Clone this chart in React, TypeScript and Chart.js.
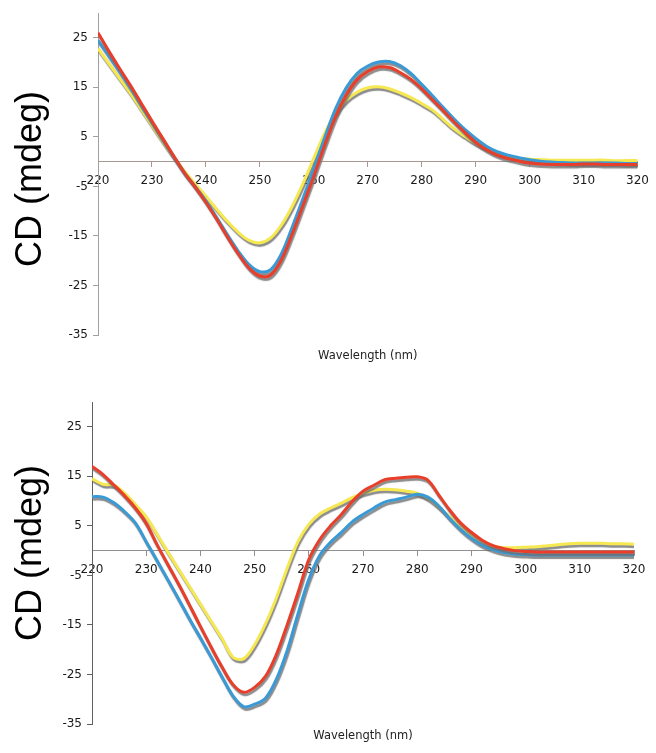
import React, { useEffect, useRef } from 'react';
import { Chart, registerables } from 'chart.js';

Chart.register(...registerables);

const WAVELENGTHS = [
  220, 222, 224, 226, 228, 230, 232, 234, 236, 238,
  240, 242, 244, 246, 248, 250, 252, 254, 256, 258,
  260, 262, 264, 266, 268, 270, 272, 274, 276, 278,
  280, 282, 284, 286, 288, 290, 292, 294, 296, 298,
  300, 302, 304, 306, 308, 310, 312, 314, 316, 318, 320,
];

const TOP_RED = [
  26.0, 22.3, 18.8, 15.4, 11.8, 8.2, 4.7, 1.2, -2.2, -5.1,
  -8.2, -11.6, -15.2, -18.6, -21.5, -23.1, -22.9, -19.8, -14.6, -8.8,
  -2.9, 3.3, 9.0, 13.4, 16.5, 18.2, 19.1, 19.0, 18.0, 16.6,
  14.7, 12.5, 10.3, 8.0, 5.9, 3.9, 2.4, 1.3, 0.6, 0.1,
  -0.3, -0.5, -0.6, -0.6, -0.6, -0.5, -0.5, -0.6, -0.6, -0.6, -0.6,
];
const TOP_BLUE = [
  24.5, 21.4, 18.2, 14.9, 11.4, 7.9, 4.5, 1.1, -2.2, -5.0,
  -7.9, -11.3, -14.8, -18.1, -20.8, -22.2, -21.8, -18.6, -13.2, -7.4,
  -1.4, 4.8, 10.6, 14.9, 17.8, 19.3, 20.1, 20.2, 19.4, 17.8,
  15.6, 13.3, 10.9, 8.6, 6.5, 4.7, 3.1, 2.0, 1.3, 0.8,
  0.4, 0.1, -0.1, -0.2, -0.3, -0.3, -0.3, -0.3, -0.3, -0.4, -0.4,
];
const TOP_YELLOW = [
  22.8, 19.8, 16.8, 13.8, 10.6, 7.3, 4.1, 1.0, -1.9, -4.5,
  -7.0, -9.6, -12.1, -14.3, -15.9, -16.4, -15.4, -12.8, -9.0, -4.4,
  0.7, 5.7, 9.7, 12.4, 14.0, 14.9, 15.1, 14.7, 13.9, 12.9,
  11.7, 10.4, 8.5, 6.6, 5.1, 3.7, 2.6, 1.7, 1.1, 0.7,
  0.5, 0.4, 0.3, 0.3, 0.3, 0.3, 0.3, 0.3, 0.2, 0.2, 0.2,
];

const BOTTOM_RED = [
  17.0, 15.4, 13.3, 11.1, 8.6, 5.5, 1.2, -2.8, -6.8, -11.0,
  -15.3, -19.5, -23.5, -27.0, -28.6, -27.6, -25.4, -21.0, -15.0, -8.5,
  -1.8, 2.2, 5.0, 7.3, 9.9, 12.0, 13.2, 14.3, 14.6, 14.8,
  14.9, 14.2, 11.2, 8.2, 5.6, 3.7, 2.1, 1.0, 0.4, 0.0,
  -0.2, -0.3, -0.3, -0.3, -0.3, -0.3, -0.3, -0.3, -0.3, -0.3, -0.3,
];
const BOTTOM_BLUE = [
  10.9, 10.8, 9.7, 7.9, 5.6, 1.8, -2.0, -5.9, -9.8, -13.8,
  -17.6, -21.5, -25.5, -29.3, -31.5, -31.0, -29.8, -26.0, -20.2, -12.8,
  -5.8, -1.0, 1.7, 3.7, 5.8, 7.3, 8.6, 9.8, 10.3, 10.8,
  11.4, 10.8, 9.0, 6.5, 4.3, 2.5, 1.1, 0.2, -0.4, -0.7,
  -0.8, -0.9, -0.9, -0.9, -0.9, -0.9, -0.9, -0.9, -0.9, -0.9, -0.9,
];
const BOTTOM_YELLOW = [
  14.5, 13.4, 13.2, 11.6, 9.3, 6.8, 3.3, -0.3, -3.8, -7.3,
  -10.8, -14.3, -17.8, -21.5, -21.8, -19.0, -14.8, -9.6, -3.6, 1.8,
  5.3, 7.4, 8.6, 9.6, 10.7, 11.6, 12.2, 12.4, 12.3, 12.0,
  11.6, 10.5, 8.8, 6.8, 4.7, 3.0, 1.7, 0.9, 0.6, 0.6,
  0.7, 0.8, 1.0, 1.2, 1.4, 1.5, 1.5, 1.5, 1.4, 1.4, 1.3,
];

const X_TICKS = [220, 230, 240, 250, 260, 270, 280, 290, 300, 310, 320];
const Y_TICKS = [-35, -25, -15, -5, 5, 15, 25];
const Y_MIN = -35;
const Y_MAX = 30;
const Y_TITLE = 'CD (mdeg)';
const X_TITLE = 'Wavelength (nm)';

const RED = 'rgb(232, 62, 42)';
const BLUE = 'rgb(58, 154, 214)';
const YELLOW = 'rgb(246, 232, 80)';

const shadowPlugin = {
  id: 'lineShadow',
  beforeDatasetDraw(chart: any) {
    const ctx = chart.ctx;
    ctx.save();
    ctx.shadowColor = 'rgba(110,110,110,0.8)';
    ctx.shadowBlur = 1;
    ctx.shadowOffsetX = 1;
    ctx.shadowOffsetY = 2.5;
  },
  afterDatasetDraw(chart: any) {
    chart.ctx.restore();
  },
};

const titlesPlugin = {
  id: 'cdTitles',
  afterDraw(chart: any, _args: any, opts: any) {
    const { ctx, chartArea } = chart;
    ctx.save();
    ctx.fillStyle = '#000';
    ctx.font = '36px "Liberation Sans", Arial, sans-serif';
    ctx.textAlign = 'center';
    ctx.textBaseline = 'middle';
    ctx.translate(opts.yTitleX, (chartArea.top + chartArea.bottom) / 2 + opts.yTitleDy);
    ctx.rotate(-Math.PI / 2);
    ctx.fillText(Y_TITLE, 0, 0);
    ctx.restore();

    ctx.save();
    ctx.fillStyle = '#222';
    ctx.font = '11.5px "DejaVu Sans", Verdana, sans-serif';
    ctx.textAlign = 'center';
    ctx.textBaseline = 'middle';
    ctx.fillText(X_TITLE, (chartArea.left + chartArea.right) / 2, chartArea.bottom + opts.xTitleDy);
    ctx.restore();
  },
};

type Cfg = {
  height: number;
  padding: { left: number; right: number; top: number; bottom: number };
  yTitleX: number;
  yTitleDy: number;
  xTitleDy: number;
  xAxisColor: string;
  yAxisColor: string;
};

function CDChart({ red, blue, yellow, cfg }: { red: number[]; blue: number[]; yellow: number[]; cfg: Cfg }) {
  const ref = useRef<HTMLCanvasElement | null>(null);
  useEffect(() => {
    if (!ref.current) return;
    const pts = (arr: number[]) => WAVELENGTHS.map((w, i) => ({ x: w, y: arr[i] }));
    const tickFont = { family: '"DejaVu Sans", Verdana, sans-serif', size: 12 };
    const chart = new Chart(ref.current, {
      type: 'line',
      data: {
        datasets: [
          { data: pts(red), borderColor: RED },
          { data: pts(blue), borderColor: BLUE },
          { data: pts(yellow), borderColor: YELLOW },
        ],
      },
      options: {
        responsive: false,
        animation: false,
        events: [],
        layout: { padding: cfg.padding },
        elements: {
          point: { radius: 0 },
          line: { borderWidth: 3, tension: 0.35, fill: false },
        },
        plugins: {
          legend: { display: false },
          tooltip: { enabled: false },
          cdTitles: { yTitleX: cfg.yTitleX, yTitleDy: cfg.yTitleDy, xTitleDy: cfg.xTitleDy },
        } as any,
        scales: {
          x: {
            type: 'linear',
            position: { y: 0 } as any,
            min: 220,
            max: 320,
            afterBuildTicks: (s: any) => {
              s.ticks = X_TICKS.map((v) => ({ value: v }));
            },
            grid: { drawOnChartArea: false, drawTicks: true, tickLength: 5, color: cfg.xAxisColor },
            border: { color: cfg.xAxisColor, width: 1 },
            ticks: { autoSkip: false, maxRotation: 0, padding: 7, font: tickFont, color: '#1a1a1a' },
          },
          y: {
            type: 'linear',
            min: Y_MIN,
            max: Y_MAX,
            afterBuildTicks: (s: any) => {
              s.ticks = Y_TICKS.map((v) => ({ value: v }));
            },
            afterFit: (s: any) => {
              s.width = 40;
            },
            grid: { drawOnChartArea: false, drawTicks: true, tickLength: 5, color: cfg.yAxisColor },
            border: { color: cfg.yAxisColor, width: 1 },
            ticks: { padding: 5, font: tickFont, color: '#1a1a1a' },
          },
        },
      } as any,
      plugins: [shadowPlugin, titlesPlugin],
    });
    return () => chart.destroy();
  }, [red, blue, yellow, cfg]);
  return <canvas ref={ref} width={656} height={cfg.height} style={{ display: 'block' }} />;
}

const TOP_CFG: Cfg = {
  height: 376,
  padding: { left: 58, right: 12, top: 13, bottom: 41 },
  yTitleX: 31,
  yTitleDy: 5,
  xTitleDy: 21,
  xAxisColor: '#a89890',
  yAxisColor: '#a0a0a0',
};

const BOTTOM_CFG: Cfg = {
  height: 377,
  padding: { left: 52, right: 22, top: 26, bottom: 29 },
  yTitleX: 31,
  yTitleDy: -10,
  xTitleDy: 12.5,
  xAxisColor: '#909090',
  yAxisColor: '#606060',
};

export default function App() {
  return (
    <div style={{ position: 'absolute', left: 0, top: 0, width: 656, height: 753, background: '#fff' }}>
      <CDChart red={TOP_RED} blue={TOP_BLUE} yellow={TOP_YELLOW} cfg={TOP_CFG} />
      <CDChart red={BOTTOM_RED} blue={BOTTOM_BLUE} yellow={BOTTOM_YELLOW} cfg={BOTTOM_CFG} />
    </div>
  );
}
